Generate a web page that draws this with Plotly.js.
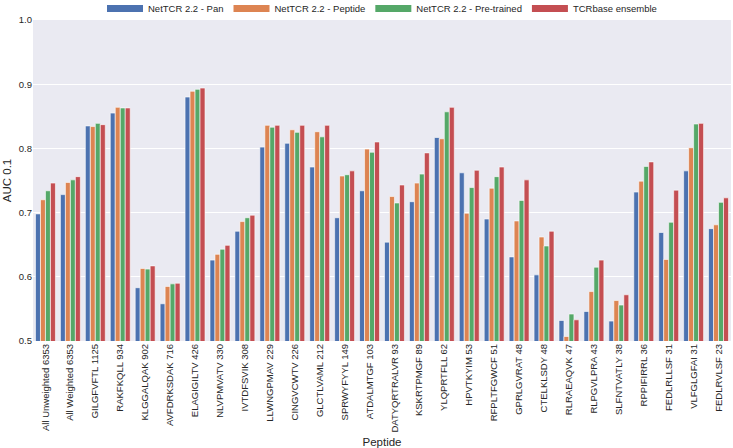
<!DOCTYPE html>
<html>
<head>
<meta charset="utf-8">
<script src="https://cdn.plot.ly/plotly-3.0.1.min.js"></script>
<style>
  html, body { margin: 0; padding: 0; background: #ffffff; }
  #chart { width: 733px; height: 448px; }
</style>
</head>
<body>
<div id="chart"></div>
<script>
const categories = [
  "All Unweighted 6353", "All Weighted 6353", "GILGFVFTL 1125", "RAKFKQLL 934",
  "KLGGALQAK 902", "AVFDRKSDAK 716", "ELAGIGILTV 426", "NLVPMVATV 330",
  "IVTDFSVIK 308", "LLWNGPMAV 229", "CINGVCWTV 226", "GLCTLVAML 212",
  "SPRWYFYYL 149", "ATDALMTGF 103", "DATYQRTRALVR 93", "KSKRTPMGF 89",
  "YLQPRTFLL 62", "HPVTKYIM 53", "RFPLTFGWCF 51", "GPRLGVRAT 48",
  "CTELKLSDY 48", "RLRAEAQVK 47", "RLPGVLPRA 43", "SLFNTVATLY 38",
  "RPPIFIRRL 36", "FEDLRLLSF 31", "VLFGLGFAI 31", "FEDLRVLSF 23"
];

const seriesNames = ["NetTCR 2.2 - Pan", "NetTCR 2.2 - Peptide", "NetTCR 2.2 - Pre-trained", "TCRbase ensemble"];

const panValues = [
  0.698, 0.728, 0.835, 0.855, 0.583, 0.558, 0.880, 0.626, 0.671, 0.802,
  0.808, 0.771, 0.692, 0.734, 0.654, 0.717, 0.817, 0.762, 0.690, 0.631,
  0.603, 0.532, 0.546, 0.531, 0.732, 0.669, 0.765, 0.675
];
const peptideValues = [
  0.720, 0.747, 0.834, 0.864, 0.613, 0.585, 0.889, 0.635, 0.686, 0.836,
  0.829, 0.826, 0.757, 0.799, 0.725, 0.746, 0.815, 0.699, 0.738, 0.687,
  0.662, 0.507, 0.577, 0.563, 0.749, 0.627, 0.801, 0.681
];
const pretrainedValues = [
  0.734, 0.751, 0.839, 0.863, 0.612, 0.589, 0.892, 0.643, 0.692, 0.833,
  0.825, 0.818, 0.759, 0.794, 0.715, 0.760, 0.857, 0.739, 0.756, 0.719,
  0.648, 0.542, 0.615, 0.556, 0.772, 0.685, 0.838, 0.716
];
const tcrbaseValues = [
  0.746, 0.756, 0.837, 0.863, 0.617, 0.590, 0.894, 0.649, 0.696, 0.836,
  0.836, 0.836, 0.765, 0.810, 0.743, 0.793, 0.864, 0.766, 0.771, 0.751,
  0.671, 0.533, 0.626, 0.572, 0.779, 0.735, 0.839, 0.723
];

const yTicks = [0.5, 0.6, 0.7, 0.8, 0.9, 1.0];
const yTickLabels = ["0.5", "0.6", "0.7", "0.8", "0.9", "1.0"];

const colors = ["#4C72B0", "#DD8452", "#55A868", "#C44E52"];
const allValues = [panValues, peptideValues, pretrainedValues, tcrbaseValues];

const FONT = "'Liberation Sans', Arial, Helvetica, sans-serif";
const TEXT = "#262626";

const traces = [];
allValues.forEach((vals, i) => {
  traces.push({
    type: "bar",
    name: seriesNames[i],
    x: categories,
    y: vals,
    marker: { color: colors[i], line: { color: "#ffffff", width: 0.6 } },
    showlegend: false,
    hovertemplate: "%{x}<br>%{y:.3f}<extra>" + seriesNames[i] + "</extra>"
  });
});
// legend-only entries drawn as wide patches
allValues.forEach((vals, i) => {
  traces.push({
    type: "scatter",
    mode: "lines",
    name: seriesNames[i],
    x: [null],
    y: [null],
    line: { color: colors[i], width: 7 },
    showlegend: true,
    hoverinfo: "skip"
  });
});

const layout = {
  width: 733,
  height: 448,
  margin: { l: 33, r: 2, t: 20, b: 107, autoexpand: false },
  paper_bgcolor: "#ffffff",
  plot_bgcolor: "#EAEAF2",
  barmode: "group",
  bargap: 0.2,
  bargroupgap: 0,
  font: { family: FONT, size: 9.5, color: TEXT },
  showlegend: true,
  legend: {
    orientation: "h",
    x: 0.5, xanchor: "center",
    y: 1.081, yanchor: "top",
    itemwidth: 36,
    font: { family: FONT, size: 9.5, color: TEXT },
    bgcolor: "rgba(0,0,0,0)",
    itemclick: false, itemdoubleclick: false
  },
  xaxis: {
    type: "category",
    tickangle: -90,
    showgrid: false,
    zeroline: false,
    showline: false,
    ticks: "",
    tickfont: { family: FONT, size: 9.5, color: TEXT },
    title: { text: "Peptide", font: { family: FONT, size: 11.5, color: TEXT }, standoff: 6 },
    automargin: false
  },
  yaxis: {
    range: [0.5, 1.0],
    tickvals: yTicks,
    ticktext: yTickLabels,
    showgrid: true,
    gridcolor: "#ffffff",
    gridwidth: 1,
    zeroline: false,
    showline: false,
    ticks: "",
    tickfont: { family: FONT, size: 9.5, color: TEXT },
    title: { text: "AUC 0.1", font: { family: FONT, size: 11.5, color: TEXT }, standoff: 4 },
    automargin: false
  }
};

Plotly.newPlot("chart", traces, layout, { displayModeBar: false, staticPlot: true });
</script>
</body>
</html>
